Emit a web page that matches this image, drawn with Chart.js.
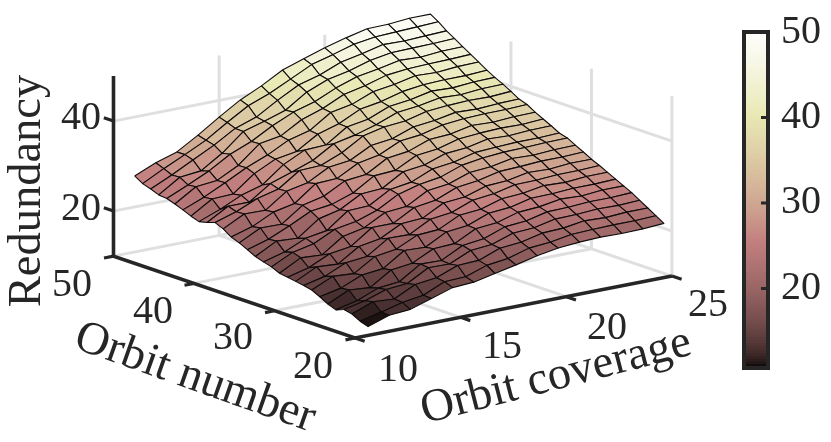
<!DOCTYPE html>
<html><head><meta charset="utf-8">
<style>html,body{margin:0;padding:0;background:#fff;width:831px;height:442px;overflow:hidden}
#wrap{position:relative;width:831px;height:442px}
#main{position:absolute;left:0;top:0}#bar{position:absolute;left:700px;top:0}</style>
<script src="https://cdn.jsdelivr.net/npm/chart.js@4"></script></head><body>
<div id="wrap"><canvas id="main" width="831" height="442"></canvas><canvas id="bar" width="131" height="442"></canvas></div>
<script>
const coverage=[11,12,13,14,15,16,17,18,19,20,21,22,23,24,25];
const orbits=[50,49,48,47,46,45,44,43,42,41,40,39,38,37,36,35,34,33,32,31,30,29,28,27,26,25,24,23,22,21];
const redundancy=[
[26.9,28.9,30.4,33.2,36.3,39.2,41.4,44.0,45.6,47.1,48.4,49.5,49.6,50.0,50.0],
[25.8,28.2,30.4,32.7,35.7,38.5,40.3,42.6,44.9,46.2,47.6,48.3,48.5,48.7,48.9],
[25.2,27.4,29.8,32.2,35.0,36.6,39.4,41.9,43.2,45.1,46.1,47.2,47.1,47.3,47.5],
[24.5,27.5,28.0,31.0,34.9,36.3,37.8,40.9,42.8,43.8,45.2,46.0,46.1,46.2,46.4],
[24.3,26.4,28.6,31.4,33.3,35.9,38.0,39.4,41.5,43.1,43.9,44.9,44.7,45.1,45.2],
[23.7,26.6,27.1,29.5,33.4,34.2,36.9,38.5,40.7,41.7,43.1,43.6,43.8,43.9,44.1],
[23.0,24.9,27.2,29.6,31.5,33.9,35.1,38.2,39.1,41.0,41.7,42.7,42.5,42.9,43.0],
[22.2,25.1,25.3,28.9,31.2,32.0,34.9,36.3,38.6,39.4,40.7,41.3,41.5,41.5,41.8],
[21.6,23.4,25.6,27.0,30.6,32.9,33.1,36.2,37.0,38.9,39.5,40.5,40.3,40.7,40.8],
[22.0,24.7,24.7,27.9,29.5,31.2,34.0,35.0,36.4,38.2,38.7,39.6,39.4,39.8,39.9],
[22.6,24.1,26.1,27.3,30.5,30.7,32.6,35.4,36.5,36.9,38.1,38.5,38.7,38.6,38.9],
[21.8,24.2,24.1,27.4,28.4,30.9,31.5,33.9,34.5,36.2,36.7,37.6,37.4,37.7,37.8],
[20.6,22.0,24.3,25.3,28.8,29.0,31.5,32.4,34.6,35.1,36.3,36.8,37.0,37.0,37.2],
[19.9,22.3,22.2,25.5,26.6,29.1,29.6,32.3,32.9,34.6,34.9,35.9,35.7,36.0,36.1],
[19.0,20.4,22.5,24.8,25.4,27.0,29.9,30.2,32.6,33.1,34.4,34.8,35.0,34.9,35.2],
[18.1,20.6,20.3,23.7,24.8,27.4,27.7,30.5,31.1,32.7,33.1,34.1,33.9,34.2,34.3],
[17.5,18.8,20.9,21.7,25.2,25.4,28.1,28.8,30.8,31.4,32.6,32.9,33.1,33.1,33.3],
[17.0,19.3,20.3,22.6,23.4,25.0,27.6,28.9,29.6,31.3,32.0,32.4,32.5,32.7,32.8],
[16.2,18.7,18.4,21.6,22.6,25.1,25.5,28.1,28.7,30.3,30.7,31.6,31.4,31.7,31.8],
[15.9,17.1,19.3,20.0,23.3,23.3,25.9,26.6,28.5,29.1,30.2,30.4,30.7,30.7,30.9],
[15.6,17.9,17.6,20.6,21.4,23.8,24.1,26.6,27.0,28.5,28.8,29.7,29.5,29.9,29.9],
[15.3,16.4,18.5,19.0,22.1,22.0,24.5,25.1,26.9,27.4,28.5,28.6,28.9,28.9,29.1],
[14.9,17.0,16.7,19.6,20.3,22.5,22.8,25.1,25.5,26.9,27.2,28.0,27.8,28.2,28.2],
[14.0,15.0,17.0,17.5,20.6,20.4,22.9,23.4,25.2,25.6,26.7,26.8,27.1,27.1,27.3],
[13.0,15.2,14.8,17.8,18.4,20.7,20.9,23.3,23.7,25.1,25.4,26.2,26.0,26.4,26.4],
[12.3,13.4,15.3,15.8,18.8,18.7,21.1,21.7,23.4,23.8,24.9,25.0,25.3,25.3,25.5],
[13.0,14.0,15.6,16.0,18.6,18.5,20.6,21.0,22.6,22.9,23.9,24.0,24.3,24.2,24.4],
[12.6,14.4,14.1,16.4,17.0,18.8,19.0,20.8,21.2,22.3,22.5,23.2,23.0,23.3,23.3],
[11.6,12.7,13.9,14.6,16.7,16.9,18.5,19.1,20.5,20.9,21.7,21.9,22.0,22.0,22.2],
[11.0,12.6,13.0,14.5,16.0,16.3,17.3,18.3,19.4,20.2,20.6,20.8,20.7,20.8,21.1]
];
const zTicks=[20,40];
const orbitTicks=[20,30,40,50];
const coverageTicks=[10,15,20,25];
const colorbarTicks=[20,30,40,50];
const zMin=10,zMax=50,cMin=10,cMax=25,oMin=20,oMax=50,colorMin=10.7,colorMax=50;

const FONT='"Liberation Serif"',INK='#262626',GRID='#dfdfdf';
// view projection of the 3-D axes box
const px=(c,o,z)=>355+21.13*(c-cMin)-8.05*(o-oMin);
const py=(c,o,z)=>338-4.13*(c-cMin)-2.73*(o-oMin)-4.5*(z-zMin);
const P=(c,o,z)=>({x:px(c,o,z),y:py(c,o,z)});
function pink(t){
  t=Math.max(0,Math.min(1,t));
  const cl=v=>Math.max(0,Math.min(1,v));
  const h=[cl(t/0.375),cl((t-0.375)/0.375),cl((t-0.75)/0.25)];
  return 'rgb('+h.map(v=>Math.round(255*Math.sqrt((2*t+v)/3))).join(',')+')';
}
const level=k=>pink((k+0.5)/64);
const colorOf=v=>level(Math.min(63,Math.floor((v-colorMin)/(colorMax-colorMin)*64)));

function line(points,color,width){return {data:points,showLine:true,fill:false,borderColor:color,borderWidth:width,pointRadius:0,tension:0,borderCapStyle:'butt'};}
const paint=[];
// grid on floor and walls
orbitTicks.forEach(o=>{ if(o!==oMin) paint.push(line([P(cMin,o,zMin),P(cMax,o,zMin)],GRID,3)); });
coverageTicks.forEach(c=>{ if(c!==cMin) paint.push(line([P(c,oMin,zMin),P(c,oMax,zMin)],GRID,3)); });
coverageTicks.forEach(c=>{ if(c!==cMin) paint.push(line([P(c,oMax,zMin),P(c,oMax,zMax)],GRID,3)); });
orbitTicks.forEach(o=>{ if(o!==oMax) paint.push(line([P(cMax,o,zMin),P(cMax,o,zMax)],GRID,3)); });
zTicks.forEach(z=>{ paint.push(line([P(cMin,oMax,z),P(cMax,oMax,z),P(cMax,oMin,z)],GRID,3)); });
// surface, back to front
for(let j=0;j<orbits.length-1;j++){
  for(let i=coverage.length-2;i>=0;i--){
    const a=P(coverage[i],orbits[j],redundancy[j][i]),b=P(coverage[i+1],orbits[j],redundancy[j][i+1]),
          d=P(coverage[i+1],orbits[j+1],redundancy[j+1][i+1]),e=P(coverage[i],orbits[j+1],redundancy[j+1][i]);
    paint.push({data:[a,b,d,e,a],showLine:true,fill:'shape',backgroundColor:colorOf(redundancy[j+1][i]),
      borderColor:'#100c0c',borderWidth:1.1,pointRadius:0,tension:0,borderJoinStyle:'round'});
  }
}
// axes and ticks
paint.push(line([P(cMin,oMax,zMax),P(cMin,oMax,zMin),P(cMin,oMin,zMin),P(cMax,oMin,zMin)],INK,3.6));
zTicks.forEach(z=>paint.push(line([P(cMin,oMax,z),P(cMin,oMax+1.2,z)],INK,3.2)));
orbitTicks.forEach(o=>paint.push(line([P(cMin,o,zMin),P(cMin-0.45,o,zMin)],INK,3.2)));
coverageTicks.forEach(c=>paint.push(line([P(c,oMin,zMin),P(c,oMin-1.2,zMin)],INK,3.2)));

const orbitLabelPos={50:[72,285],40:[153,312],30:[233,338],20:[313,367]};
const coverageLabelPos={10:[398,370],15:[502,347],20:[607,328],25:[708,305]};
const zLabelPos={40:[81,118],20:[81,209]};
const labels=[];
zTicks.forEach(v=>labels.push([String(v),zLabelPos[v][0],zLabelPos[v][1],0,40]));
orbitTicks.forEach(v=>labels.push([String(v),orbitLabelPos[v][0],orbitLabelPos[v][1],0,40]));
coverageTicks.forEach(v=>labels.push([String(v),coverageLabelPos[v][0],coverageLabelPos[v][1],0,40]));
labels.push(['Redundancy',28,191,-90,46.5],['Orbit number',195,378,19.5,46.5],['Orbit coverage',556,377,-14.5,46.5]);

const textPlugin={id:'axisText',afterDraw(ch){
  const g=ch.ctx;g.save();g.fillStyle=INK;g.textAlign='center';g.textBaseline='middle';
  labels.forEach(([s,x,y,r,f])=>{g.save();g.translate(x,y);g.rotate(r*Math.PI/180);g.font=f+'px '+FONT;g.fillText(s,0,0);g.restore();});
  g.restore();
}};
new Chart(document.getElementById('main'),{type:'scatter',data:{datasets:paint.slice().reverse()},plugins:[textPlugin],options:{
  responsive:false,animation:false,events:[],layout:{padding:0},
  plugins:{legend:{display:false},tooltip:{enabled:false},filler:{drawTime:'beforeDatasetDraw',propagate:false}},
  scales:{x:{type:'linear',min:0,max:831,display:false},y:{type:'linear',min:0,max:442,reverse:true,display:false}}
}});

// colorbar
const nLevels=128;
const levels=[];
for(let k=0;k<nLevels;k++)levels.push(colorMin+(colorMax-colorMin)*k/nLevels);
const step=(colorMax-colorMin)/nLevels;
const framePlugin={id:'frame',afterDraw(ch){
  const g=ch.ctx,a=ch.chartArea,s=ch.scales.y;g.save();g.strokeStyle=INK;g.lineWidth=4;
  g.strokeRect(a.left,a.top,a.right-a.left,a.bottom-a.top);
  g.lineWidth=3;colorbarTicks.forEach(v=>{const y=s.getPixelForValue(v);if(v<colorMax){g.beginPath();g.moveTo(a.right-7,y);g.lineTo(a.right,y);g.stroke();}});
  g.restore();
}};
new Chart(document.getElementById('bar'),{type:'bar',data:{labels:['c'],datasets:levels.map((v,k)=>({data:[[v,Math.min(colorMax,v+step+0.12)]],backgroundColor:pink((k+0.5)/nLevels),borderWidth:0,barPercentage:1,categoryPercentage:1,grouped:false}))},plugins:[framePlugin],options:{
  responsive:false,animation:false,events:[],layout:{padding:{left:44,top:32,bottom:74,right:0}},
  plugins:{legend:{display:false},tooltip:{enabled:false}},
  scales:{x:{display:false,stacked:false},y:{position:'right',min:colorMin,max:colorMax,
    afterBuildTicks(s){s.ticks=colorbarTicks.map(v=>({value:v}));},
    afterFit(s){s.width=63;s.paddingTop=0;s.paddingBottom=0;},
    grid:{display:false,drawTicks:false},border:{display:false},
    ticks:{padding:13,color:INK,font:{family:FONT,size:40},autoSkip:false,maxRotation:0}}}
}});
</script></body></html>
